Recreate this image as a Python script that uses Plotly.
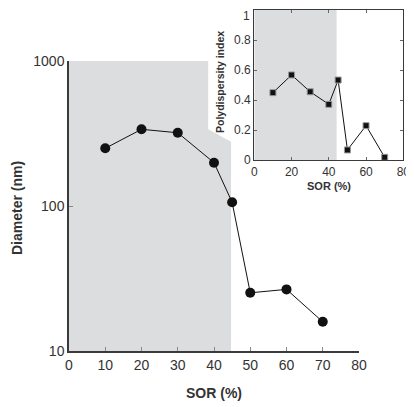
import plotly.graph_objects as go

# Main chart data
sor = [10, 20, 30, 40, 45, 50, 60, 70]
diameter = [250, 338, 320, 199, 106, 25.2, 26.6, 15.9]

# Inset data
pdi = [0.449, 0.567, 0.455, 0.371, 0.533, 0.067, 0.229, 0.018]

# Shaded region outlines (main, clipped by inset) and inset
shade_main_x = [0, 0, 38.4, 38.4, 44.7, 44.7]
shade_main_y = [10, 1000, 1000, 338, 277, 10]
shade_inset_x = [0, 0, 44.2, 44.2]
shade_inset_y = [0, 1, 1, 0]

x_ticks = [0, 10, 20, 30, 40, 50, 60, 70, 80]
y_ticks = [10, 100, 1000]
y_ticktext = ["10", "100", "1000"]
inset_x_ticks = [0, 20, 40, 60, 80]
inset_y_ticks = [0, 0.2, 0.4, 0.6, 0.8, 1]
# the top label "1" is drawn as an annotation so it is not clipped at the page edge
inset_y_ticktext = ["0", "0.2", "0.4", "0.6", "0.8", ""]
inset_top_label = "1"

GRAY = "#dcdddf"
AX = "#3a3a3a"
FONT = "Liberation Sans, Arial, sans-serif"

# page body has an 8px margin; figure sized to the visible area
OFF = 8
W, H = 414 - OFF, 407 - OFF

fig = go.Figure()

fig.add_trace(go.Scatter(x=shade_main_x, y=shade_main_y, fill="toself", fillcolor=GRAY,
                         line=dict(width=0), mode="lines", hoverinfo="skip",
                         xaxis="x", yaxis="y", showlegend=False))
fig.add_trace(go.Scatter(x=sor, y=diameter, mode="lines+markers",
                         line=dict(color="#111", width=1),
                         marker=dict(symbol="circle", size=10, color="#111"),
                         xaxis="x", yaxis="y", showlegend=False))

fig.add_trace(go.Scatter(x=shade_inset_x, y=shade_inset_y, fill="toself", fillcolor=GRAY,
                         line=dict(width=0), mode="lines", hoverinfo="skip",
                         xaxis="x2", yaxis="y2", showlegend=False))
fig.add_trace(go.Scatter(x=sor, y=pdi, mode="lines+markers",
                         line=dict(color="#111", width=1),
                         marker=dict(symbol="square", size=6, color="#111",
                                     line=dict(color="#999", width=1)),
                         xaxis="x2", yaxis="y2", showlegend=False))


def px(v):
    return (v - OFF) / W


def py(v):
    return 1 - (v - OFF) / H


common = dict(showgrid=False, zeroline=False, showline=True, linecolor=AX,
              ticks="inside", automargin=False)

fig.update_layout(
    width=W, height=H,
    margin=dict(l=0, r=0, t=0, b=0),
    paper_bgcolor="white", plot_bgcolor="white",
    font=dict(family=FONT, color="#333", size=14),
    xaxis=dict(domain=[px(69), px(359)], range=[0, 80], tickmode="array", tickvals=x_ticks,
               linewidth=1.5, ticklen=4, tickcolor="#888", tickfont=dict(size=14),
               anchor="y", **common),
    yaxis=dict(domain=[py(351), py(61)], type="log", range=[1, 3], tickmode="array",
               tickvals=y_ticks, ticktext=y_ticktext,
               linewidth=1.5, ticklen=4, tickcolor="#888", tickfont=dict(size=14),
               anchor="x", **common),
    xaxis2=dict(domain=[px(254.3), px(403.3)], range=[0, 80], tickmode="array",
                tickvals=inset_x_ticks, mirror="ticks", linewidth=1.2, ticklen=3,
                tickcolor="#666", tickfont=dict(size=12), anchor="y2", **common),
    yaxis2=dict(domain=[py(160), py(10)], range=[0, 1], tickmode="array",
                tickvals=inset_y_ticks, ticktext=inset_y_ticktext, mirror="ticks",
                linewidth=1.2, ticklen=3, tickcolor="#666", tickfont=dict(size=12),
                anchor="x2", **common),
    annotations=[
        dict(text="<b>SOR (%)</b>", x=px(214), y=py(393), xref="paper", yref="paper",
             showarrow=False, font=dict(size=14), xanchor="center", yanchor="middle"),
        dict(text="<b>Diameter (nm)</b>", x=px(17), y=py(208), xref="paper", yref="paper",
             showarrow=False, font=dict(size=14), textangle=-90,
             xanchor="center", yanchor="middle"),
        dict(text="<b>SOR (%)</b>", x=px(329), y=py(186), xref="paper", yref="paper",
             showarrow=False, font=dict(size=11), xanchor="center", yanchor="middle"),
        dict(text="<b>Polydispersity index</b>", x=px(220), y=py(82), xref="paper",
             yref="paper", showarrow=False, font=dict(size=10.5), textangle=-90,
             xanchor="center", yanchor="middle"),
        dict(text=inset_top_label, x=0, y=1, xref="x2 domain", yref="y2 domain",
             showarrow=False, font=dict(size=12), xanchor="right", yanchor="top",
             xshift=-3, yshift=2, borderpad=0),
    ],
)

fig.write_html("out.html")
